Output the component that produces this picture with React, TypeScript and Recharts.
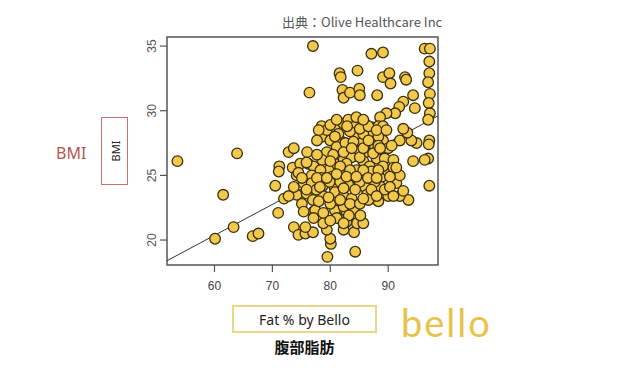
import {
  ScatterChart, Scatter, XAxis, YAxis, ReferenceLine, ReferenceArea,
} from 'recharts';

// 腹部脂肪 (Fat % by Bello) と BMI の散布図
const FAT_PCT = [
  53.6, 61.5, 63.9, 60.1, 63.3, 66.6, 67.6, 70.5, 71.2, 71.1, 71.0, 72.0, 72.8, 73.7, 73.5, 73.7, 74.5, 75.7, 77.0, 77.0,
  76.4, 76.0, 74.2, 74.8, 76.2, 81.6, 81.8, 82.1, 82.3, 83.4, 84.7, 85.0, 85.1, 87.1, 89.1, 88.1, 89.1, 90.2, 90.4, 92.9,
  93.1, 94.3, 94.6, 92.6, 91.9, 91.2, 89.7, 88.6, 96.3, 97.2, 97.1, 97.1, 96.9, 97.2, 97.0, 97.2, 96.9, 97.1, 97.0, 96.9,
  96.3, 97.1, 94.3, 94.9, 94.0, 93.3, 92.6, 92.0, 93.5, 92.0, 91.4, 92.0, 90.0, 88.3, 84.3, 79.5, 80.1, 80.0, 79.4, 78.8,
  82.3, 84.1, 84.6, 85.7, 81.1, 81.4, 77.1, 78.5, 80.7, 82.3, 83.1, 84.5, 86.0, 87.3, 88.3, 89.1, 87.1, 78.7, 80.0, 81.7,
  83.1, 84.5, 85.4, 87.7, 89.1, 90.0, 81.1, 79.4, 86.1, 78.6, 80.8, 82.3, 83.7, 85.7, 88.0, 89.4, 90.9, 86.8, 84.5, 79.7,
  77.1, 78.3, 76.8, 78.5, 80.3, 82.2, 83.7, 85.6, 87.1, 88.9, 90.0, 75.4, 76.8, 78.7, 80.7, 83.1, 86.0, 88.7, 74.2, 75.9,
  77.0, 78.8, 80.8, 82.3, 83.7, 86.3, 86.6, 75.1, 75.4, 77.4, 80.8, 82.3, 84.1, 77.1, 81.1, 82.8, 74.5, 79.4, 81.4, 83.4,
  85.7, 88.3, 80.5, 82.8, 85.1, 87.4, 77.6, 79.9, 85.1, 87.7, 81.7, 83.4, 80.0, 85.1, 89.1, 90.9, 88.3, 85.7,
  78.0, 80.0, 82.9, 85.1, 86.6, 88.0, 89.7, 77.7, 80.8, 82.6, 84.0, 86.6, 88.6, 90.6, 82.3, 83.7, 77.7, 80.0, 81.7, 83.4,
  85.7, 88.3, 90.3, 77.7, 79.4, 81.1, 82.8, 84.5, 86.5, 88.0, 75.9, 78.2, 82.3, 84.3, 87.1, 89.4, 78.0, 79.7, 81.7, 85.7,
  88.0, 78.8, 80.0, 83.2, 85.2, 82.3, 75.7, 75.9, 75.1, 72.8, 73.7, 90.3, 91.4, 92.6, 90.9, 84.5, 81.1, 85.7,
];
const BMI = [
  26.1, 23.5, 26.7, 20.1, 21.0, 20.3, 20.5, 24.2, 25.7, 25.3, 22.1, 23.2, 26.8, 27.1, 25.6, 21.0, 20.4, 20.5, 20.6, 35.0,
  31.4, 26.8, 25.0, 25.9, 25.9, 32.9, 32.6, 31.6, 31.0, 31.4, 33.1, 31.7, 31.2, 34.4, 34.5, 31.2, 32.6, 32.9, 32.1, 32.6,
  32.4, 31.2, 30.2, 30.7, 30.3, 29.8, 29.8, 29.5, 34.8, 34.8, 33.8, 32.9, 32.2, 31.3, 30.6, 29.8, 29.3, 27.7, 27.4, 26.3,
  26.2, 24.2, 26.1, 27.5, 27.7, 28.3, 28.6, 27.7, 23.1, 23.4, 24.4, 25.0, 23.4, 23.0, 19.1, 18.7, 19.7, 20.1, 20.8, 21.3,
  20.8, 20.6, 21.3, 21.3, 22.2, 21.7, 22.2, 28.8, 28.7, 29.0, 29.3, 28.9, 29.0, 28.7, 28.8, 28.8, 28.4, 28.0, 27.7, 27.7,
  27.1, 28.0, 27.5, 27.3, 27.7, 27.1, 27.2, 26.8, 26.8, 26.2, 25.9, 26.2, 26.4, 26.1, 26.3, 26.3, 26.2, 25.7, 25.4, 25.4,
  25.7, 25.4, 25.0, 24.8, 24.9, 25.0, 24.8, 24.9, 25.3, 24.9, 25.3, 24.4, 24.4, 24.2, 24.1, 24.3, 24.1, 24.1, 23.5, 23.6,
  23.1, 23.4, 23.7, 23.4, 23.2, 23.5, 23.1, 22.8, 22.2, 22.3, 22.3, 22.6, 22.4, 21.7, 21.7, 21.4, 25.2, 28.5, 28.2, 28.4,
  28.2, 28.0, 26.6, 25.9, 26.4, 26.7, 23.9, 24.5, 24.5, 24.5, 24.5, 22.8, 22.8, 22.8, 25.7, 25.6, 27.3, 27.1,
  28.5, 28.9, 28.8, 28.6, 28.8, 28.5, 28.5, 27.7, 28.0, 27.5, 27.6, 27.7, 27.1, 27.3, 26.8, 27.1, 26.6, 26.1, 25.7, 25.4,
  25.4, 25.4, 24.9, 24.8, 24.8, 25.1, 24.9, 24.9, 24.8, 24.8, 23.9, 24.1, 24.0, 23.9, 23.9, 23.9, 23.0, 23.3, 23.1, 23.2,
  23.4, 22.1, 21.5, 21.9, 21.9, 21.3, 21.0, 26.0, 24.8, 23.4, 24.1, 24.1, 25.6, 23.8, 23.4, 29.5, 29.3, 29.3,
];

const X_TICKS = [60, 70, 80, 90];
const Y_TICKS = [20, 25, 30, 35];
const X_DOMAIN: [number, number] = [51.8, 98.6];
const Y_DOMAIN: [number, number] = [18.07, 35.7];
// 回帰直線の両端
const FIT_X = [51.8, 98.6];
const FIT_Y = [18.4, 29.6];

const points = FAT_PCT.map((x, i) => ({ x, y: BMI[i] }));

const DOT_FILL = '#f2c94c';
const DOT_STROKE = '#3b2f08';
const AXIS = '#555';

function Dot(props: any) {
  const { cx, cy } = props;
  if (cx == null || cy == null) return null;
  return <circle cx={cx} cy={cy} r={5.3} fill={DOT_FILL} stroke={DOT_STROKE} strokeWidth={1.3} />;
}

function YTick(props: any) {
  const { x, y, payload } = props;
  return (
    <text
      x={x}
      y={y}
      transform={`rotate(-90 ${x} ${y})`}
      textAnchor="middle"
      dominantBaseline="central"
      fill="#555"
      fontSize={12}
      fontFamily="'Liberation Sans', Arial, sans-serif"
    >
      {payload.value}
    </text>
  );
}

export default function App() {
  return (
    <div style={{ position: 'absolute', left: 0, top: 0, width: 640, height: 371, background: '#fff', fontFamily: "'Noto Sans CJK JP', 'Noto Sans', sans-serif" }}>
      <div style={{ position: 'absolute', left: 282, top: 12, fontSize: 13, color: '#555', whiteSpace: 'nowrap' }}>
        出典：Olive Healthcare Inc
      </div>

      <ScatterChart width={640} height={371} margin={{ top: 37, right: 202, bottom: 76, left: 127 }}>
        <XAxis
          type="number"
          dataKey="x"
          domain={X_DOMAIN}
          ticks={X_TICKS}
          allowDataOverflow
          axisLine={false}
          tickLine={{ stroke: AXIS, strokeWidth: 1.2 }}
          tickSize={7}
          tickMargin={9}
          height={30}
          tick={{ fill: '#444', fontSize: 12, fontFamily: "'Liberation Sans', Arial, sans-serif" }}
        />
        <YAxis
          type="number"
          dataKey="y"
          domain={Y_DOMAIN}
          ticks={Y_TICKS}
          allowDataOverflow
          axisLine={false}
          tickLine={{ stroke: AXIS, strokeWidth: 1.2 }}
          tickSize={7}
          tickMargin={8}
          width={40}
          tick={<YTick />}
        />
        <ReferenceArea
          x1={X_DOMAIN[0]}
          x2={X_DOMAIN[1]}
          y1={Y_DOMAIN[0]}
          y2={Y_DOMAIN[1]}
          fill="none"
          stroke={AXIS}
          strokeWidth={1.5}
          fillOpacity={0}
        />
        <Scatter data={points} shape={<Dot />} isAnimationActive={false} />
        <ReferenceLine
          segment={[{ x: FIT_X[0], y: FIT_Y[0] }, { x: FIT_X[1], y: FIT_Y[1] }]}
          stroke="#333"
          strokeWidth={1}
          ifOverflow="visible"
        />
      </ScatterChart>

      {/* Y軸ラベル */}
      <div style={{ position: 'absolute', left: 56, top: 142, fontSize: 16, color: '#b85450', fontFamily: "'Noto Sans', sans-serif" }}>BMI</div>
      <div style={{ position: 'absolute', left: 101, top: 117, width: 27, height: 68, boxSizing: 'border-box', border: '1.5px solid #c8706c' }}>
        <div style={{ position: 'absolute', left: '50%', top: '50%', transform: 'translate(-50%, -50%) rotate(-90deg)', fontSize: 11, color: '#222', fontFamily: "'Noto Sans', sans-serif" }}>
          BMI
        </div>
      </div>

      {/* X軸ラベル */}
      <div style={{ position: 'absolute', left: 232, top: 305, width: 145, height: 28, boxSizing: 'border-box', border: '2px solid #ecd688', display: 'flex', alignItems: 'center', justifyContent: 'center', fontSize: 14, color: '#222', fontFamily: "'Noto Sans', sans-serif" }}>
        Fat % by Bello
      </div>
      <div style={{ position: 'absolute', left: 232, width: 145, top: 336, textAlign: 'center', fontSize: 15, fontWeight: 700, color: '#111' }}>
        腹部脂肪
      </div>

      <div style={{ position: 'absolute', left: 401, top: 299, fontSize: 38, color: '#e8c34a', fontFamily: 'Lato, sans-serif', letterSpacing: 2 }}>
        bello
      </div>
    </div>
  );
}
